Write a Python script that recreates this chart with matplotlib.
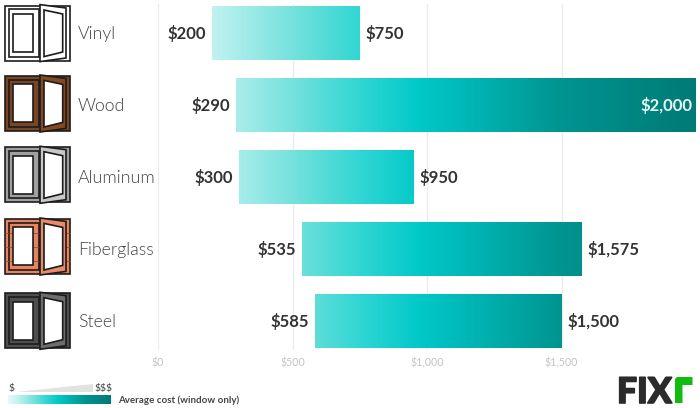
import numpy as np
import matplotlib
matplotlib.use("Agg")
from matplotlib import pyplot as plt
from matplotlib import patheffects
from matplotlib.colors import LinearSegmentedColormap
from matplotlib.patches import Rectangle, Polygon

materials = ["Vinyl", "Wood", "Aluminum", "Fiberglass", "Steel"]
low_cost = [200, 290, 300, 535, 585]
high_cost = [750, 2000, 950, 1575, 1500]
tick_values = [0, 500, 1000, 1500]
tick_labels = ["$0", "$500", "$1,000", "$1,500"]

frame_colors = ["#ffffff", "#7a4522", "#a0a0a0", "#e8825f", "#4e4e4e"]
sash_colors = ["#ffffff", "#84491f", "#c8c8c8", "#ea8a68", "#6e6e6e"]
icon_tops = [5.6, 76, 147.3, 219, 293.3]

W, H = 700, 408
plt.rcParams["font.family"] = ["Lato", "DejaVu Sans"]

fig = plt.figure(figsize=(W / 100, H / 100), dpi=100)

# overlay in pixel coords, for icons and legend
bg = fig.add_axes([0, 0, 1, 1])
bg.set_xlim(0, W)
bg.set_ylim(H, 0)
bg.axis("off")

# main chart, x scale is dollars, one row = 72 px, first row at y=33
x0, x1 = 158.0, 696.0
top, bottom = 4.0, 350.0
ylim = ((bottom - 33) / 72, (top - 33) / 72)
ax = fig.add_axes([x0 / W, 1 - bottom / H, (x1 - x0) / W, (bottom - top) / H])
ax.patch.set_alpha(0)
for s in ax.spines.values():
    s.set_visible(False)
ax.set_yticks([])
ax.set_xticks(tick_values)
ax.set_xticklabels(tick_labels, fontsize=7.7, color="#c4c4c4")
ax.tick_params(axis="x", length=0, pad=5.5)
ax.grid(axis="x", color="#ececec", linewidth=1)
ax.set_axisbelow(True)

# stops are positions on the cost scale / 2000
teal = LinearSegmentedColormap.from_list(
    "teal", [(0, "#e6faf9"), (0.1, "#c0f2f0"), (0.27, "#6adfdb"), (0.375, "#30d6d3"),
             (0.49, "#00c8c8"), (0.75, "#009490"), (1, "#007a76")])
grad = np.linspace(0, 1, 512).reshape(1, -1)

half = 27.3 / 72
for i, name in enumerate(materials):
    lo, hi = low_cost[i], high_cost[i]
    # gradient follows the whole cost scale, bar just clips it
    im = ax.imshow(grad, cmap=teal, aspect="auto", extent=[0, 2000, i + half, i - half], zorder=2)
    rect = Rectangle((lo, i - half), hi - lo, 2 * half, transform=ax.transData)
    im.set_clip_path(rect)
    ax.text(lo - 23, i, f"${lo:,}", ha="right", va="center", fontsize=12, fontweight="bold", color="#333333", zorder=3)
    if hi == 2000:
        ax.text(hi - 13, i, f"${hi:,}", ha="right", va="center", fontsize=12, fontweight="bold", color="#e8f7f6", zorder=3)
    else:
        ax.text(hi + 23, i, f"${hi:,}", ha="left", va="center", fontsize=12, fontweight="bold", color="#333333", zorder=3)
ax.set_xlim(0, 2000)
ax.set_ylim(*ylim)

# window icons
ec = "#1c1c1c"
for i, name in enumerate(materials):
    t = icon_tops[i]
    c = frame_colors[i]
    sc = sash_colors[i]
    bg.add_patch(Rectangle((5, t), 65, 55, fc=c, ec=ec, lw=1.2, zorder=1))
    bg.add_patch(Rectangle((8.5, t + 3.7), 30, 47.3, fc=c, ec=ec, lw=1.2, zorder=1.1))
    if name == "Fiberglass":
        # thin seams on the frame, under the glass
        for dy in [14, 28, 42]:
            bg.plot([5, 70], [t + dy, t + dy], color="#8a4a32", lw=0.5, zorder=1.2)
    bg.add_patch(Rectangle((12.7, t + 8.4), 20.6, 38, fc="white", ec=ec, lw=1.2, zorder=1.3))
    bg.add_patch(Polygon([(40, t - 1), (66, t + 2.4), (66, t + 52.4), (40, t + 56)], fc=sc, ec=ec, lw=1.2, zorder=1.4))
    bg.add_patch(Polygon([(44, t + 4.4), (62.7, t + 8.4), (62.7, t + 46.4), (44, t + 51)], fc="white", ec=ec, lw=1.2, zorder=1.5))
    bg.text(78, 34 + 72 * i, name, ha="left", va="center", fontsize=12.8, fontweight=300, color="#444444")

# legend at bottom
bg.add_patch(Polygon([(16, 392), (93, 384), (93, 392)], fc="#e2e2e2", ec="none"))
bg.text(9, 388, "$", ha="left", va="center", fontsize=7.5, color="#444444")
bg.text(94.5, 388, "$$$", ha="left", va="center", fontsize=7.5, color="#444444")
bg.imshow(grad, cmap=teal, aspect="auto", extent=[8.3, 110.7, 404, 395])
bg.set_xlim(0, W)
bg.set_ylim(H, 0)
bg.text(118, 400.5, "Average cost (window only)", ha="left", va="center", fontsize=7, fontweight="bold", color="#444444")

# logo
bg.text(617, 403, "FIX", ha="left", va="baseline", fontsize=25.5, fontweight="black", color="#2b2b2b",
        path_effects=[patheffects.withStroke(linewidth=1.2, foreground="#2b2b2b")])
bg.add_patch(Polygon([(675, 403), (675, 379), (677, 377), (692.5, 377), (692.5, 385), (682.5, 385), (682.5, 403)],
                     fc="#12bb10", ec="none"))

fig.savefig("out.png", dpi=100)
